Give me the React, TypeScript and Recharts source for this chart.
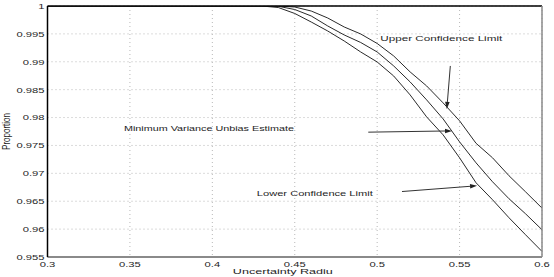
import { CartesianGrid, Line, LineChart, ReferenceDot, ReferenceLine, XAxis, YAxis } from 'recharts';

if (typeof document !== 'undefined') document.body.style.margin = '0';

const radius = [0.3, 0.43, 0.44, 0.45, 0.46, 0.47, 0.48, 0.49, 0.5, 0.51, 0.52, 0.53, 0.54, 0.55, 0.56, 0.57, 0.58, 0.59, 0.6];
const upperLimit = [1, 1, 1, 0.99982, 0.9991, 0.99785, 0.99624, 0.99499, 0.99328, 0.99105, 0.98818, 0.98567, 0.98263, 0.97941, 0.97538, 0.97278, 0.96956, 0.96669, 0.96377];
const estimate = [1, 1, 0.99995, 0.99937, 0.99821, 0.99642, 0.99481, 0.99346, 0.99176, 0.98926, 0.98639, 0.98317, 0.97976, 0.97564, 0.97188, 0.96848, 0.96544, 0.96275, 0.95989];
const lowerLimit = [1, 1, 0.99973, 0.99866, 0.99713, 0.99552, 0.99373, 0.99176, 0.98997, 0.98746, 0.98406, 0.98012, 0.9769, 0.97278, 0.9683, 0.96526, 0.96203, 0.95899, 0.956];

const xTicks = [0.3, 0.35, 0.4, 0.45, 0.5, 0.55, 0.6];
const yTicks = [0.955, 0.96, 0.965, 0.97, 0.975, 0.98, 0.985, 0.99, 0.995, 1];

// annotation anchors, in data units
const notes = [
  { text: 'Upper Confidence Limit', x: 0.5019, y: 0.99422, from: { x: 0.54438, y: 0.98925 }, to: { x: 0.54226, y: 0.98155 } },
  { text: 'Minimum Variance Unbias Estimate', x: 0.3464, y: 0.97806, from: { x: 0.4946, y: 0.97738 }, to: { x: 0.54542, y: 0.97761 } },
  { text: 'Lower Confidence Limit', x: 0.427, y: 0.96633, from: { x: 0.51506, y: 0.96674 }, to: { x: 0.5606, y: 0.96777 } },
];
const noteWidths = [122, 170, 116];

const rows = radius.map((r, i) => ({ r, upper: upperLimit[i], mvue: estimate[i], lower: lowerLimit[i] }));

const FONT = '"Liberation Sans", Arial, sans-serif';
const INK = '#1e1e1e';
const STRETCH = 1.4;

function XTick(props: any) {
  const { x, y, payload } = props;
  return (
    <text transform={`translate(${x},${y + 7}) scale(${STRETCH},1)`} textAnchor="middle" dominantBaseline="central" fontSize={8} fontFamily={FONT} fill={INK}>
      {String(payload.value)}
    </text>
  );
}

function YTick(props: any) {
  const { x, y, payload } = props;
  return (
    <text transform={`translate(${x - 3},${y}) scale(${STRETCH},1)`} textAnchor="end" dominantBaseline="central" fontSize={8} fontFamily={FONT} fill={INK}>
      {String(payload.value)}
    </text>
  );
}

function Arrow(props: any) {
  const { x1, y1, x2, y2 } = props;
  if (x1 == null || x2 == null) return null;
  const ang = Math.atan2(y2 - y1, x2 - x1);
  const len = 7;
  const half = 2.3;
  const bx = x2 - len * Math.cos(ang);
  const by = y2 - len * Math.sin(ang);
  const px = -Math.sin(ang) * half;
  const py = Math.cos(ang) * half;
  return (
    <g>
      <line x1={x1} y1={y1} x2={bx} y2={by} stroke="#333" strokeWidth={1} />
      <polygon points={`${x2},${y2} ${bx + px},${by + py} ${bx - px},${by - py}`} fill="#222" />
    </g>
  );
}

export default function App() {
  return (
    <div style={{ width: 554, height: 277, background: '#fff' }}>
      <LineChart width={554} height={277} data={rows} margin={{ top: 6, right: 12, bottom: 0, left: 0 }}>
        <CartesianGrid stroke="#b8b8b8" strokeDasharray="1 3" />
        <XAxis
          type="number"
          dataKey="r"
          domain={[0.3, 0.6]}
          ticks={xTicks}
          height={20}
          tickSize={0}
          tickMargin={0}
          tickLine={false}
          axisLine={{ stroke: '#8a8a8a', strokeWidth: 2 }}
          tick={<XTick />}
          interval={0}
          label={{
            content: (p: any) => {
              const vb = p.viewBox || { x: 47.5, y: 257, width: 494 };
              return (
                <text x={vb.x + vb.width * 0.476 - 50} y={vb.y + 14.5} textLength={100} lengthAdjust="spacingAndGlyphs" dominantBaseline="central" fontSize={8} fontFamily={FONT} fill={INK}>
                  Uncertainty Radiu
                </text>
              );
            },
          }}
        />
        <YAxis
          type="number"
          domain={[0.955, 1]}
          ticks={yTicks}
          width={47.5}
          tickSize={0}
          tickMargin={0}
          tickLine={false}
          allowDataOverflow
          axisLine={{ stroke: '#000', strokeWidth: 1.5 }}
          tick={<YTick />}
          interval={0}
          label={{
            content: (p: any) => {
              const vb = p.viewBox || { x: 0, y: 6, height: 251 };
              return (
                <text transform={`translate(${vb.x + 7},${vb.y + vb.height / 2}) scale(1.3,1) rotate(-90)`} textAnchor="middle" dominantBaseline="central" fontSize={8} fontFamily={FONT} fill={INK}>
                  Proportion
                </text>
              );
            },
          }}
        />
        <Line type="linear" dataKey="upper" stroke="#2a2a2a" strokeWidth={1} dot={false} isAnimationActive={false} />
        <Line type="linear" dataKey="mvue" stroke="#2a2a2a" strokeWidth={1} dot={false} isAnimationActive={false} />
        <Line type="linear" dataKey="lower" stroke="#2a2a2a" strokeWidth={1} dot={false} isAnimationActive={false} />
        <ReferenceLine y={1} stroke="#000" strokeWidth={1.5} ifOverflow="visible" />
        <ReferenceLine x={0.6} stroke="#8a8a8a" strokeWidth={1.5} ifOverflow="visible" />
        {notes.map((n) => (
          <ReferenceLine key={`a-${n.text}`} segment={[n.from, n.to]} shape={<Arrow />} ifOverflow="visible" />
        ))}
        {notes.map((n, i) => (
          <ReferenceDot
            key={`t-${n.text}`}
            x={n.x}
            y={n.y}
            r={0}
            ifOverflow="visible"
            shape={(p: any) => (
              <text x={p.cx} y={p.cy} textLength={noteWidths[i]} lengthAdjust="spacingAndGlyphs" dominantBaseline="central" fontSize={8} fontFamily={FONT} fill={INK}>
                {n.text}
              </text>
            )}
          />
        ))}
      </LineChart>
    </div>
  );
}
